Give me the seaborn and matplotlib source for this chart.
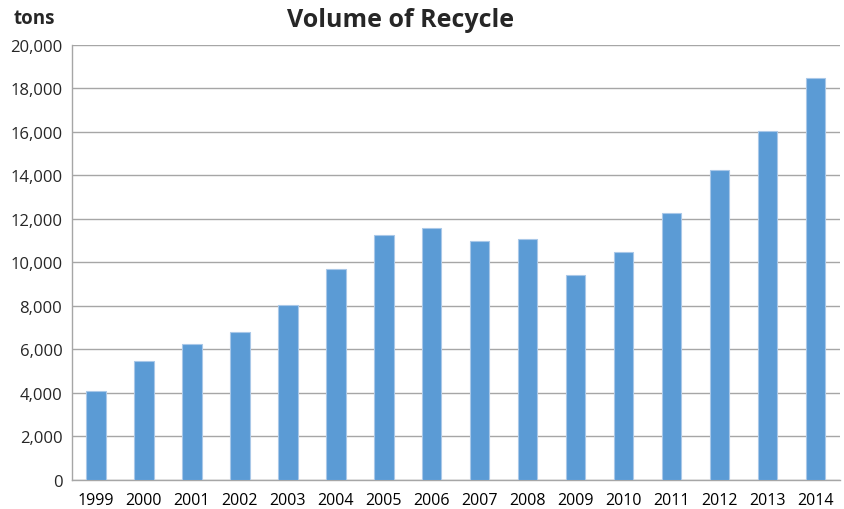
import matplotlib
matplotlib.use("Agg")
import matplotlib.pyplot as plt
import seaborn as sns
import pandas as pd
from matplotlib.ticker import FuncFormatter

years = ["1999", "2000", "2001", "2002", "2003", "2004", "2005", "2006",
         "2007", "2008", "2009", "2010", "2011", "2012", "2013", "2014"]
volume = [4090, 5450, 6230, 6800, 8050, 9700, 11260, 11570,
          11000, 11080, 9430, 10500, 12260, 14230, 16030, 18470]

df = pd.DataFrame({"year": years, "volume": volume})

sns.set_style("white")
plt.rcParams['font.family'] = ['Open Sans', 'DejaVu Sans']

fig = plt.figure(figsize=(8.44, 5.10), dpi=100)
ax = fig.add_axes([0.0853, 0.0569, 0.9097, 0.8529])

sns.barplot(data=df, x="year", y="volume", color="#5B9BD5", width=0.4,
            saturation=1, ax=ax, zorder=3, edgecolor="#A9C8E8", linewidth=0.8)

ax.set_ylim(0, 20000)
ax.set_yticks(range(0, 20001, 2000))
ax.yaxis.set_major_formatter(FuncFormatter(lambda v, p: f"{int(v):,}"))
ax.grid(axis="y", color="#A6A6A6", linewidth=1, zorder=0)
ax.set_axisbelow(True)

ax.set_xlim(-0.5, len(years) - 0.5)
ax.set_xticks([i - 0.5 for i in range(len(years) + 1)], minor=True)
ax.tick_params(axis="x", which="major", length=0, labelsize=11.5, pad=9, colors="black")
ax.tick_params(axis="x", which="minor", length=6, color="#A6A6A6", width=1)
ax.tick_params(axis="y", length=5, color="#A6A6A6", width=1, labelsize=12, pad=2)

for s in ["top", "right"]:
    ax.spines[s].set_visible(False)
for s in ["left", "bottom"]:
    ax.spines[s].set_color("#A6A6A6")
    ax.spines[s].set_linewidth(1)

ax.set_xlabel("")
ax.set_ylabel("")
fig.text(0.475, 0.96, "Volume of Recycle", ha="center", va="center",
         fontsize=18, fontweight="bold")
fig.text(0.016, 0.963, "tons", ha="left", va="center", fontsize=13.5,
         fontweight="bold")

fig.savefig("out.png", dpi=100)
